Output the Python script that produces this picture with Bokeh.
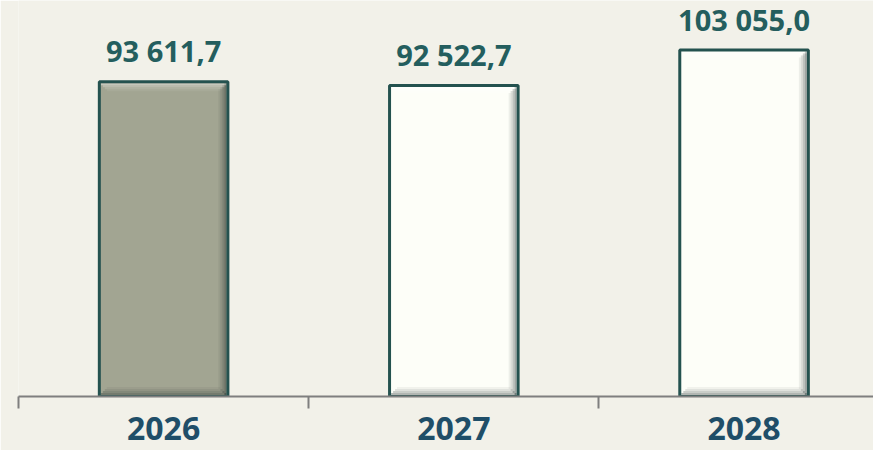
from bokeh.plotting import figure
from bokeh.models import Range1d, FixedTicker, LinearAxis, ColumnDataSource
from bokeh.embed import file_html
from bokeh.resources import INLINE
from bokeh.core.properties import value

years = ["2026", "2027", "2028"]
values = [93611.7, 92522.7, 103055.0]
labels = ["93 611,7", "92 522,7", "103 055,0"]
fills = ["#A2A592", "#FDFEF8", "#FDFEF8"]

BG = "#F2F1E9"
BAR_W = 0.443
PX_X = 1 / 290.2      # data units per pixel (x)
PX_Y = 1000 / 3.361   # data units per pixel (y)

xs = [i + 0.5 for i in range(len(years))]
src = ColumnDataSource(dict(x=xs, top=values, label=labels, fill=fills))

p = figure(width=873, height=450, output_backend="svg", toolbar_location=None,
           x_range=Range1d(0, 2.946), y_range=Range1d(0, 117800),
           x_axis_type=None, y_axis_type=None,
           min_border_left=18, min_border_right=0, min_border_top=0, min_border_bottom=54)
p.background_fill_color = BG
p.border_fill_color = BG
p.outline_line_color = None
p.grid.visible = False

# bars
p.vbar(x="x", top="top", width=BAR_W, bottom=0, source=src,
       fill_color="fill", line_color=None)

# bevel shading (right and bottom darker, top lighter)
inner = 1.5
for k, a in enumerate([0.42, 0.28, 0.16, 0.07]):
    rx = [x + BAR_W / 2 - (inner + 2 * k + 1) * PX_X for x in xs]
    p.vbar(x=rx, top=[v - (inner + 2 * k) * PX_Y for v in values],
           bottom=[(inner + 2 * k) * PX_Y for _ in values], width=2 * PX_X,
           fill_color="#1C2A2A", fill_alpha=a, line_color=None)
    p.vbar(x=xs, top=[(inner + 2 * k + 2) * PX_Y for _ in values],
           bottom=[(inner + 2 * k) * PX_Y for _ in values],
           width=BAR_W - 2 * (inner + 2 * k) * PX_X,
           fill_color="#1C2A2A", fill_alpha=a * 0.8, line_color=None)
    p.vbar(x=xs, top=[v - (inner + 2 * k) * PX_Y for v in values],
           bottom=[v - (inner + 2 * k + 2) * PX_Y for v in values],
           width=BAR_W - 2 * (inner + 2 * k) * PX_X,
           fill_color="#FFFFFF", fill_alpha=a * 0.9, line_color=None)

# outlines
p.vbar(x="x", top="top", width=BAR_W, bottom=0, source=src,
       fill_color=None, line_color="#24524F", line_width=3)

p.text(x="x", y="top", text="label", source=src, text_align="center",
       text_baseline="alphabetic", y_offset=-31,
       text_font=value("Open Sans"), text_font_style="bold",
       text_font_size="29px", text_color="#245E5E")

ax = LinearAxis(ticker=FixedTicker(ticks=xs, minor_ticks=[0, 1, 2, 3]),
                major_label_overrides={x: y for x, y in zip(xs, years)})
ax.axis_line_color = "#7F7F7F"
ax.axis_line_width = 2
ax.major_tick_line_color = None
ax.major_tick_out = 0
ax.major_tick_in = 0
ax.minor_tick_line_color = "#7F7F7F"
ax.minor_tick_line_width = 2
ax.minor_tick_out = 12
ax.minor_tick_in = 0
ax.major_label_standoff = 8
ax.major_label_text_font = "Open Sans"
ax.major_label_text_font_style = "bold"
ax.major_label_text_font_size = "32px"
ax.major_label_text_color = "#1F4E68"
p.add_layout(ax, "below")

open("out.html", "w").write(file_html(p, INLINE))
